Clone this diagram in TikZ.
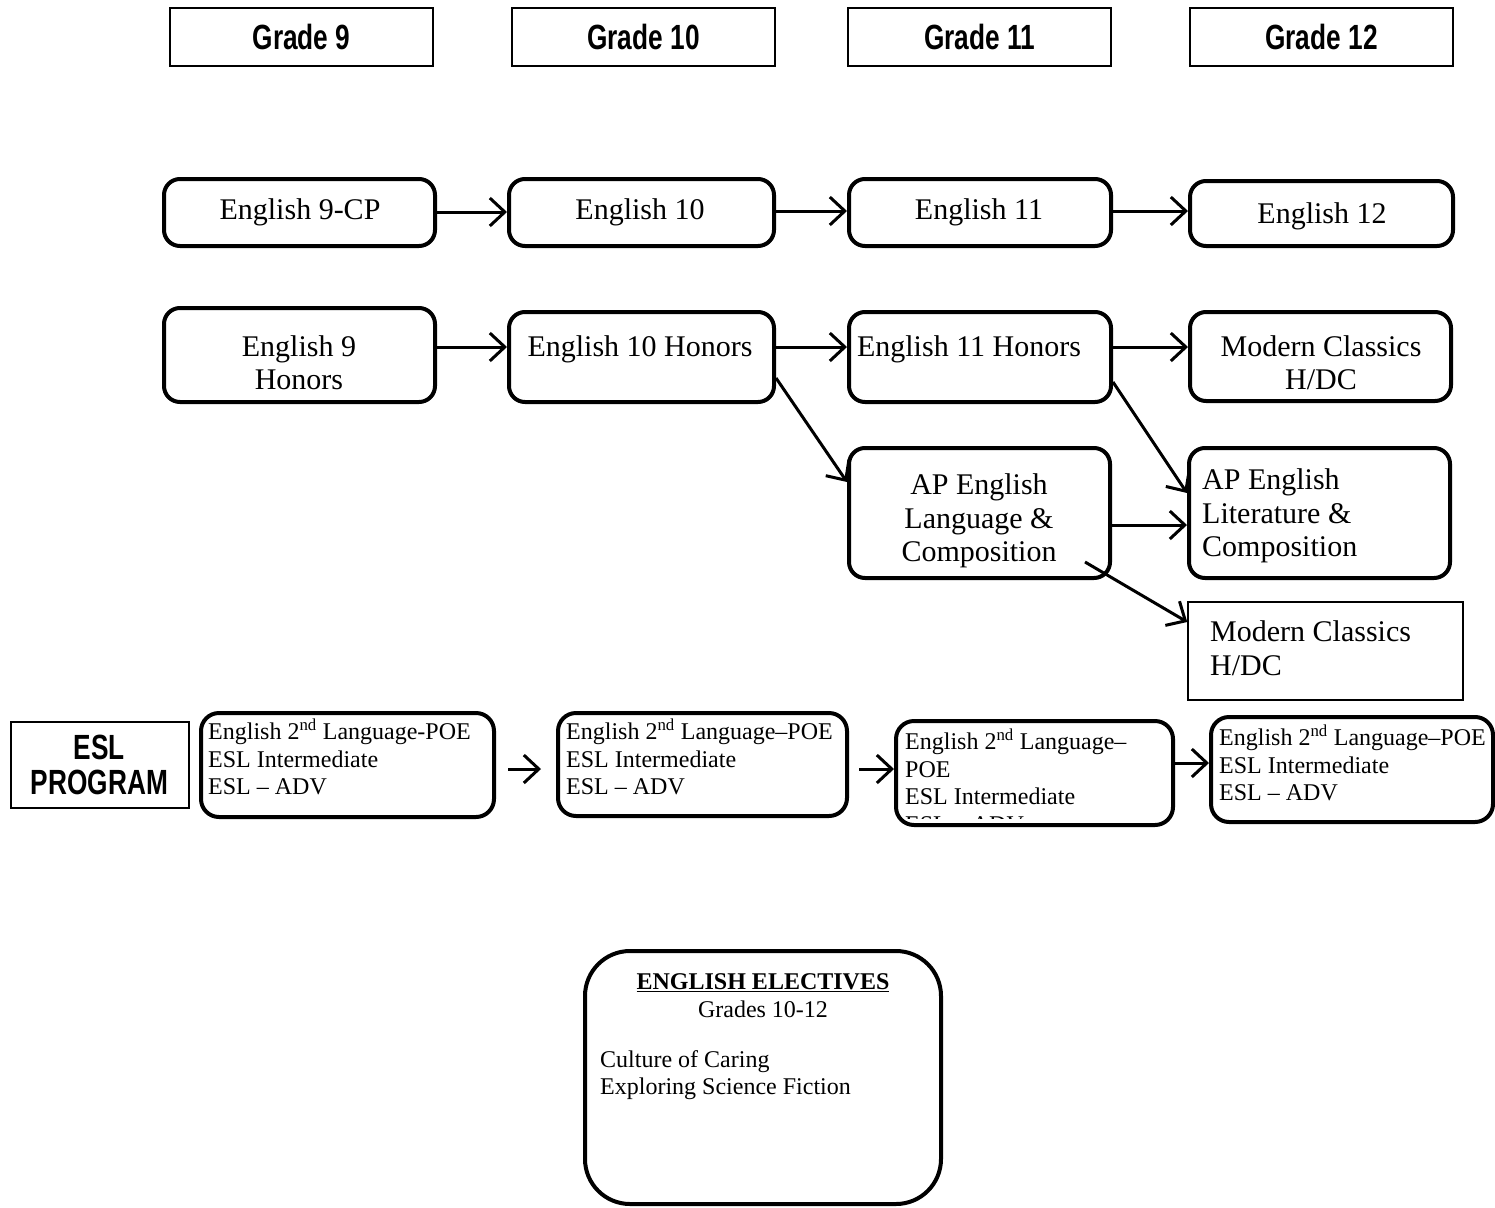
\documentclass[tikz,border=0pt]{standalone}
\usepackage{fontspec}
\setmainfont{Liberation Serif}
\newfontfamily\hdr[FakeStretch=0.75]{Liberation Sans Bold}
\usetikzlibrary{arrows.meta,calc}
\begin{document}
\begin{tikzpicture}[x=1pt,y=-1pt,
  gbox/.style={draw, line width=2pt, inner sep=0pt},
  rbox/.style={draw, line width=4pt, rounded corners=16pt, inner sep=0pt},
  tbox/.style={draw, line width=1.5pt, inner sep=0pt},
  hd/.style={font=\hdr\fontsize{35}{35}\selectfont, align=center, inner sep=0pt},
  big/.style={font=\fontsize{30}{33}\selectfont, align=center, inner sep=0pt},
  bigl/.style={font=\fontsize{30}{33.5}\selectfont, align=left, anchor=west, inner sep=0pt},
  sml/.style={font=\fontsize{24}{27.5}\selectfont, align=left, anchor=north west, inner sep=0pt},
  arr/.style={line width=3pt, -{Straight Barb[length=15pt,width=28pt,line width=3pt]}}
]
\useasboundingbox (0,0) rectangle (1495,1207);

% grade headers
\node[gbox, minimum width=263pt, minimum height=58pt] (g9) at (301.5,37) {};
\node[gbox, minimum width=263pt, minimum height=58pt] (g10) at (643.5,37) {};
\node[gbox, minimum width=263pt, minimum height=58pt] (g11) at (979.5,37) {};
\node[gbox, minimum width=263pt, minimum height=58pt] (g12) at (1321.5,37) {};
\node[hd] (tg9) at (g9) {Grade 9};
\node[hd] (tg10) at (g10) {Grade 10};
\node[hd] (tg11) at (g11) {Grade 11};
\node[hd] (tg12) at (g12) {Grade 12};

% row 1
\node[rbox, minimum width=271pt, minimum height=67pt] (e9) at (299.5,212.5) {};
\node[rbox, minimum width=265pt, minimum height=67pt] (e10) at (641.5,212.5) {};
\node[rbox, minimum width=262pt, minimum height=67pt] (e11) at (980,212.5) {};
\node[rbox, minimum width=263pt, minimum height=65pt] (e12) at (1321.5,213.5) {};
\node[big] (te9) at (300,212) {English 9-CP};
\node[big] (te10) at (640,212) {English 10};
\node[big] (te11) at (979,212) {English 11};
\node[big] (te12) at (1322,216) {English 12};
\draw[arr] (e9.east |- 0,212) -- (e10.west |- 0,212);
\draw[arr] (e10.east |- 0,211) -- (e11.west |- 0,211);
\draw[arr] (e11.east |- 0,211) -- (e12.west |- 0,211);

% row 2
\node[rbox, minimum width=271pt, minimum height=94pt] (e9h) at (299.5,355) {};
\node[rbox, minimum width=265pt, minimum height=90pt] (e10h) at (641.5,357) {};
\node[rbox, minimum width=262pt, minimum height=90pt] (e11h) at (980,357) {};
\node[rbox, minimum width=261pt, minimum height=89pt] (mc1) at (1320.5,356.5) {};
\node[big] (te9h) at (299,363) {English 9\\Honors};
\node[big] (te10h) at (640,349) {English 10 Honors};
\node[big] (te11h) at (969,349) {English 11 Honors};
\node[big] (tmc1) at (1321,363) {Modern Classics\\H/DC};
\draw[arr] (e9h.east |- 0,347) -- (e10h.west |- 0,347);
\draw[arr] (e10h.east |- 0,347) -- (e11h.west |- 0,347);
\draw[arr] (e11h.east |- 0,347) -- (mc1.west |- 0,347);

% AP row
\node[rbox, minimum width=261pt, minimum height=130pt] (apl) at (979.5,513) {};
\node[rbox, minimum width=261pt, minimum height=130pt] (apt) at (1319.5,513) {};
\node[big, font=\fontsize{30}{33.5}\selectfont] (tapl) at (979,521) {AP English\\Language \&\\Composition};
\node[bigl] (tapt) at (1202,516) {AP English\\Literature \&\\Composition};
\draw[arr] (e10h.east |- 0,378) -- (apl.west |- 0,482);
\draw[arr] (e11h.east |- 0,382) -- (apt.west |- 0,493);
\draw[arr] (apl.east |- 0,525) -- (apt.west |- 0,525);

\node[tbox, minimum width=275pt, minimum height=98pt] (mc2) at (1325.5,651) {};
\node[bigl] (tmc2) at (1210,648) {Modern Classics\\H/DC};
\coordinate (aplc) at (1085,562);
\draw[arr] (aplc) -- (mc2.west |- 0,622);

% ESL row
\node[tbox, line width=2pt, minimum width=178pt, minimum height=86pt] (eslp) at (99.5,765) {};
\node[hd] (teslp) at (eslp) {ESL\\PROGRAM};

\node[rbox, rounded corners=18pt, minimum width=293pt, minimum height=104pt] (esl1) at (347.5,765) {};
\node[rbox, rounded corners=18pt, minimum width=289pt, minimum height=103pt] (esl2) at (702.5,764.5) {};
\node[rbox, rounded corners=18pt, minimum width=277pt, minimum height=104pt] (esl3) at (1034.5,773) {};
\node[rbox, rounded corners=18pt, minimum width=282pt, minimum height=105pt] (esl4) at (1352,769.5) {};

\node[sml] (tesl1) at (208,719) {English 2\textsuperscript{nd} Language-POE\\ESL Intermediate\\ESL -- ADV};
\node[sml] (tesl2) at (566,719) {English 2\textsuperscript{nd} Language--POE\\ESL Intermediate\\ESL -- ADV};
\begin{scope}
\clip (898,723) rectangle (1172,818);
\node[sml] (tesl3) at (905,729) {English 2\textsuperscript{nd} Language--\\POE\\ESL Intermediate\\ESL -- ADV};
\end{scope}
\node[sml] (tesl4) at (1219,725) {English 2\textsuperscript{nd} Language--POE\\ESL Intermediate\\ESL -- ADV};

\draw[arr, shorten <=12pt, shorten >=15pt] (esl1.east |- 0,769) -- (esl2.west |- 0,769);
\draw[arr, shorten <=10pt] (esl2.east |- 0,769) -- (esl3.west |- 0,769);
\draw[arr] (esl3.east |- 0,763) -- (esl4.west |- 0,763);

% electives
\node[rbox, rounded corners=45pt, minimum width=356pt, minimum height=253pt] (elec) at (763,1077.5) {};
\node[font=\fontsize{24}{27}\selectfont, inner sep=0pt] (telec1) at (763,983) {\underline{\textbf{ENGLISH ELECTIVES}}};
\node[font=\fontsize{24}{27}\selectfont, inner sep=0pt] (telec2) at (763,1009) {Grades 10-12};
\node[sml] (telec3) at (600,1050) {Culture of Caring\\Exploring Science Fiction};
\end{tikzpicture}
\end{document}
